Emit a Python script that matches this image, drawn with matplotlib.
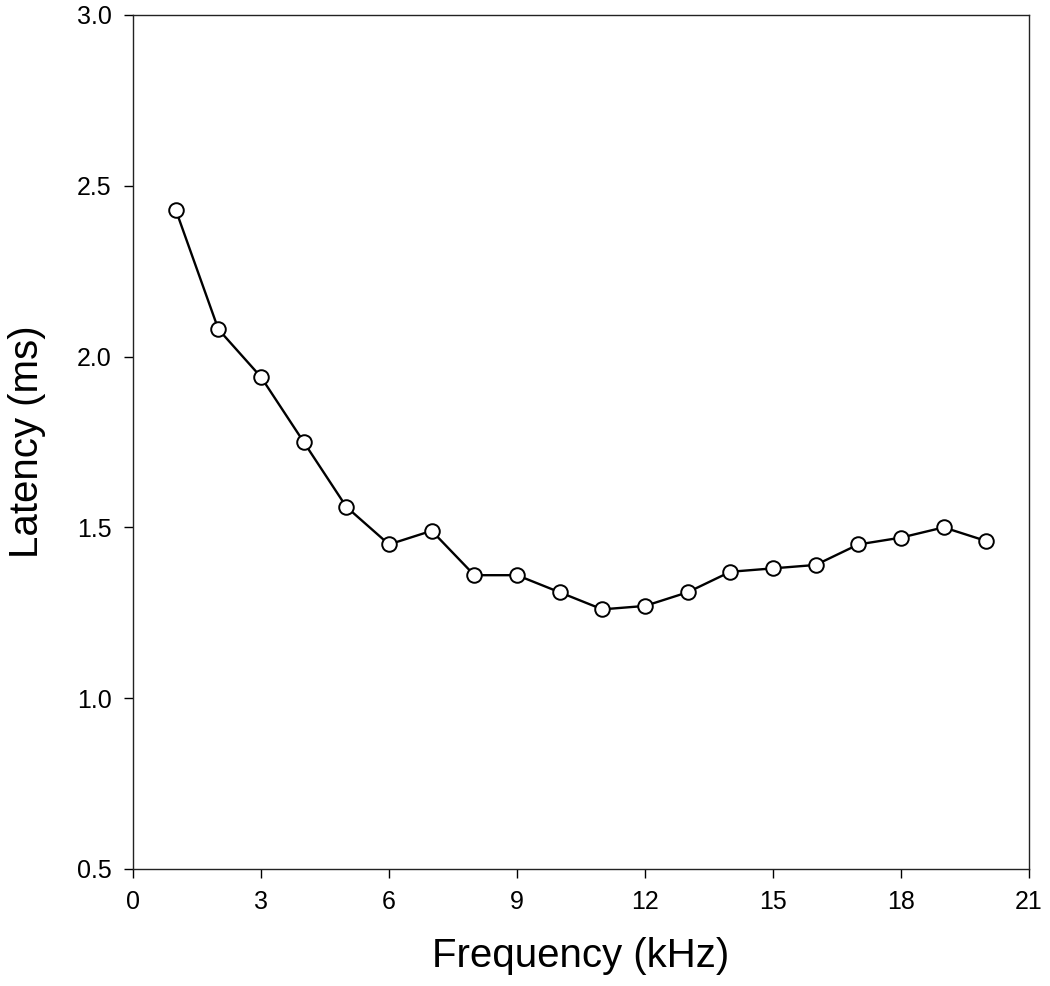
import matplotlib
matplotlib.use("Agg")
import matplotlib.pyplot as plt

# data
freq_khz = [1, 2, 3, 4, 5, 6, 7, 8, 9, 10, 11, 12, 13, 14, 15, 16, 17, 18, 19, 20]
latency_ms = [2.43, 2.08, 1.94, 1.75, 1.56, 1.45, 1.49, 1.36, 1.36, 1.31,
              1.26, 1.27, 1.31, 1.37, 1.38, 1.39, 1.45, 1.47, 1.50, 1.46]
x_ticks = [0, 3, 6, 9, 12, 15, 18, 21]
y_ticks = [0.5, 1.0, 1.5, 2.0, 2.5, 3.0]

plt.rcParams['font.family'] = ['Liberation Sans', 'DejaVu Sans']

fig = plt.figure(figsize=(10.5, 9.86), dpi=100)
ax = fig.add_axes([0.1267, 0.1187, 0.8533, 0.8661])

ax.plot(freq_khz, latency_ms, color='black', linewidth=1.7,
        marker='o', markersize=10.5, markerfacecolor='white',
        markeredgecolor='black', markeredgewidth=1.4)

ax.set_xlim(0, 21)
ax.set_ylim(0.5, 3.0)
ax.set_xticks(x_ticks)
ax.set_yticks(y_ticks)
ax.set_yticklabels([f"{v:.1f}" for v in y_ticks])
ax.tick_params(direction='out', length=6.5, width=1, labelsize=18, pad=9)

for s in ax.spines.values():
    s.set_linewidth(1)
    s.set_color('#222222')

ax.set_xlabel('Frequency (kHz)', fontsize=29, labelpad=16)
ax.set_ylabel('Latency (ms)', fontsize=29, labelpad=22)

fig.savefig('out.png', dpi=100)
